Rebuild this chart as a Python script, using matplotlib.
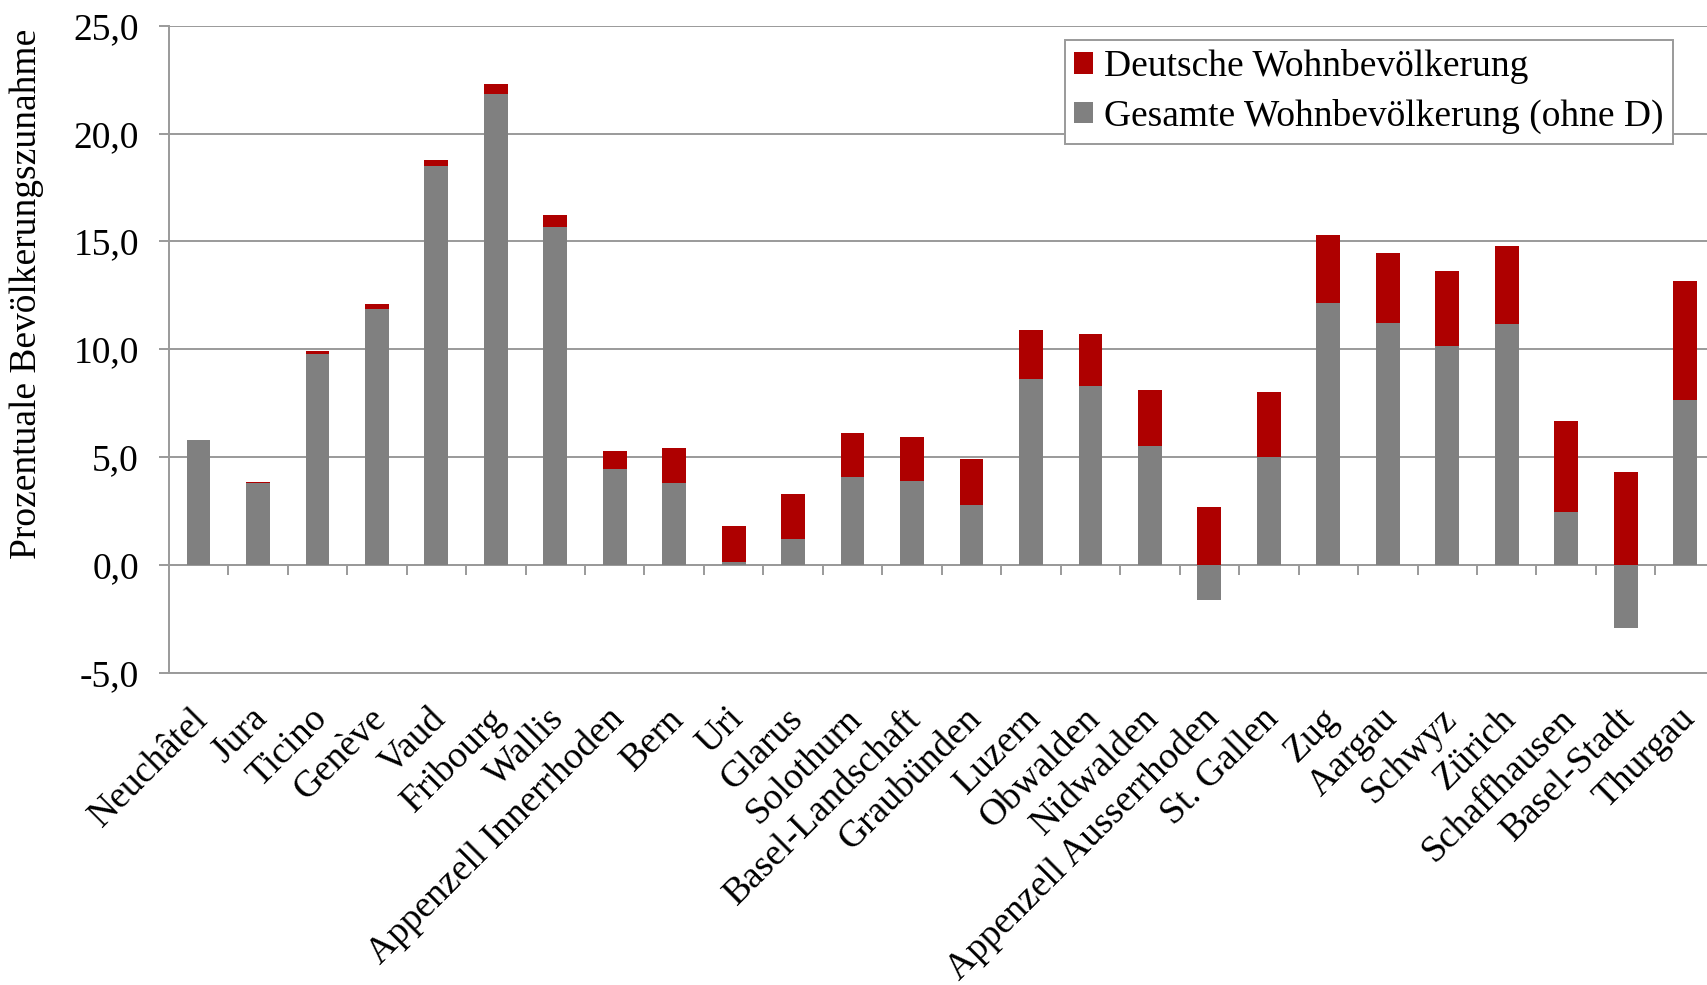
import numpy as np
import matplotlib
matplotlib.use("Agg")
import matplotlib.pyplot as plt
from matplotlib.ticker import FuncFormatter, FixedLocator
from matplotlib.transforms import ScaledTranslation

plt.rcParams['font.family'] = ['Liberation Serif', 'DejaVu Serif']

cantons = [
    "Neuchâtel", "Jura", "Ticino", "Genève", "Vaud", "Fribourg", "Wallis",
    "Appenzell Innerrhoden", "Bern", "Uri", "Glarus", "Solothurn",
    "Basel-Landschaft", "Graubünden", "Luzern", "Obwalden", "Nidwalden",
    "Appenzell Ausserrhoden", "St. Gallen", "Zug", "Aargau", "Schwyz",
    "Zürich", "Schaffhausen", "Basel-Stadt", "Thurgau",
]

# Percentage growth of the resident population without Germans
gesamt_ohne_d = [
    5.78, 3.78, 9.77, 11.88, 18.50, 21.85, 15.65,
    4.46, 3.79, 0.16, 1.22, 4.06,
    3.89, 2.80, 8.60, 8.29, 5.52,
    -1.60, 5.02, 12.16, 11.24, 10.17,
    11.15, 2.48, -2.92, 7.63,
]

# Contribution of the German resident population
deutsche = [
    0.00, 0.05, 0.14, 0.22, 0.26, 0.44, 0.57,
    0.82, 1.65, 1.66, 2.06, 2.06,
    2.04, 2.12, 2.31, 2.43, 2.60,
    2.67, 2.98, 3.15, 3.22, 3.44,
    3.65, 4.19, 4.29, 5.54,
]

y_ticks = [-5, 0, 5, 10, 15, 20, 25]

RED = "#AE0000"
GREY = "#808080"
LINE = "#9A9A9A"

fig = plt.figure(figsize=(17.08, 9.85), dpi=100)
ax = fig.add_axes([0.0988, 0.3168, 1.004 - 0.0988, 0.974 - 0.3168])

x = np.arange(len(cantons))
grey = np.array(gesamt_ohne_d)
red = np.array(deutsche)
width = 0.4

ax.bar(x, grey, width, color=GREY, label="Gesamte Wohnbevölkerung (ohne D)", zorder=3)
ax.bar(x, red, width, bottom=np.maximum(grey, 0), color=RED,
       label="Deutsche Wohnbevölkerung", zorder=3)

ax.set_xlim(-0.5, len(cantons) - 0.5)
ax.set_ylim(y_ticks[0], y_ticks[-1])
ax.set_yticks(y_ticks)
ax.yaxis.set_major_formatter(FuncFormatter(lambda v, _: f"{v:.1f}".replace(".", ",")))
ax.grid(axis="y", color=LINE, linewidth=1.4, zorder=0)
ax.set_axisbelow(True)

for side in ("top", "right"):
    ax.spines[side].set_visible(False)
for side in ("left", "bottom"):
    ax.spines[side].set_color(LINE)
    ax.spines[side].set_linewidth(1.4)

ax.tick_params(axis="y", direction="out", length=7.5, width=1.4, color=LINE,
               pad=14, labelsize=27)

# Category labels under the plot, rotated
ax.set_xticks(x)
ax.set_xticklabels(cantons, rotation=45, ha="right", va="top",
                   rotation_mode="anchor", fontsize=27)
ax.tick_params(axis="x", length=0, pad=20.5)
shift = ScaledTranslation(-8 / 100, 0, fig.dpi_scale_trans)
for lbl in ax.get_xticklabels():
    lbl.set_transform(lbl.get_transform() + shift)

# Zero line with tick marks between the categories
zero_frac = (0 - y_ticks[0]) / (y_ticks[-1] - y_ticks[0])
sec = ax.secondary_xaxis(zero_frac)
sec.xaxis.set_major_locator(FixedLocator(x[:-1] + 0.5))
sec.tick_params(axis="x", direction="out", length=7.5, width=1.4, color=LINE,
                labelbottom=False, labeltop=False)
sec.spines["bottom"].set_color(LINE)
sec.spines["bottom"].set_linewidth(1.4)

ax.set_ylabel("Prozentuale Bevölkerungszunahme", fontsize=27)
ax.yaxis.set_label_coords(27 / 1708, 1 - 294 / 985, transform=fig.transFigure)
ax.yaxis.label.set_va("center")

handles, labels = ax.get_legend_handles_labels()
leg = ax.legend(handles[::-1], labels[::-1], loc="upper left",
                bbox_to_anchor=(1065 / 1708, 1 - 40 / 985),
                bbox_transform=fig.transFigure, fontsize=27,
                handlelength=0.5, handleheight=0.5, handletextpad=0.3,
                borderpad=0.25, labelspacing=0.39, borderaxespad=0,
                fancybox=False, framealpha=1, edgecolor=LINE)
leg.get_frame().set_linewidth(1.4)

fig.savefig("out.png", dpi=100)
